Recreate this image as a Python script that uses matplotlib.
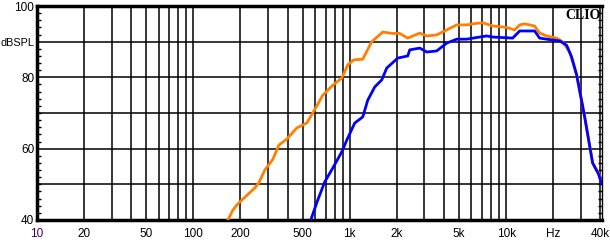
import numpy as np
import matplotlib
matplotlib.use("Agg")
import matplotlib.pyplot as plt
from matplotlib.ticker import FixedLocator, NullFormatter

# frequency response (Hz, dB SPL)
orange_f = [166, 179, 192, 247, 262, 286, 322, 352, 396, 458, 531, 580, 672, 779,
            889, 971, 1061, 1211, 1382, 1625, 1883, 2087, 2348, 2802, 3105, 3597,
            4167, 4828, 5593, 6108, 7077, 8199, 10074, 11334, 12199, 13130, 15210,
            16368, 18150, 21026, 22962, 25461, 28216, 31742, 35703, 39000, 40700]
orange_db = [40.0, 42.8, 44.5, 49.0, 50.4, 54.0, 57.0, 61.0, 62.7, 65.8, 67.2, 70.0,
             75.0, 77.8, 79.8, 83.5, 84.9, 85.1, 90.0, 92.7, 92.3, 92.3, 91.0, 92.4,
             91.6, 91.9, 93.3, 94.7, 94.7, 95.0, 95.3, 94.4, 94.0, 93.3, 94.7, 95.0,
             94.4, 92.4, 91.6, 91.0, 90.0, 87.0, 80.7, 69.0, 56.0, 53.2, 50.7]

blue_f = [563, 624, 692, 779, 889, 957, 1076, 1211, 1303, 1444, 1602, 1723, 2026,
          2348, 2418, 2802, 3105, 3597, 4167, 4828, 5593, 6771, 7506, 8199, 11003,
          12199, 15210, 16368, 18150, 21979, 24356, 26219, 28216, 31742, 35703,
          39000, 40700]
blue_db = [40.0, 45.6, 50.7, 54.6, 59.1, 62.4, 67.2, 68.9, 73.6, 77.3, 79.3, 82.6,
           85.4, 86.0, 87.7, 88.2, 87.1, 87.4, 89.6, 90.7, 90.7, 91.3, 91.6, 91.3,
           91.0, 93.0, 93.0, 91.0, 90.7, 90.2, 89.0, 85.7, 80.7, 69.0, 56.0, 52.8, 50.3]

x_grid = [20, 30, 40, 50, 60, 70, 80, 90, 100, 200, 300, 400, 500, 600, 700, 800,
          900, 1000, 2000, 3000, 4000, 5000, 6000, 7000, 8000, 9000, 10000, 20000,
          30000, 40000]
x_label_pos = [10, 20, 50, 100, 200, 500, 1000, 2000, 5000, 10000, 20000, 40000]
x_labels = ["10", "20", "50", "100", "200", "500", "1k", "2k", "5k", "10k", "Hz", "40k"]
y_grid = [50, 60, 70, 80, 90]
y_label_pos = [40, 60, 80, 90, 100]
y_labels = ["40", "60", "80", "dBSPL", "100"]

plt.rcParams["font.family"] = ["Liberation Sans", "DejaVu Sans"]

fig = plt.figure(figsize=(6.1, 2.46), dpi=100)
ax = fig.add_axes([37 / 610, 26 / 246, 565 / 610, 214 / 246])

for f in x_grid:
    ax.axvline(f, color="black", lw=1.1, zorder=1)
for v in y_grid:
    ax.axhline(v, color="black", lw=1.1, zorder=1)

ax.plot(orange_f, orange_db, color="#ff8000", lw=2.0, zorder=3)
ax.plot(blue_f, blue_db, color="#0000ff", lw=2.0, zorder=4)

ax.set_xscale("log")
ax.set_xlim(10, 41000)
ax.set_ylim(40, 100)

ax.xaxis.set_major_locator(FixedLocator(x_label_pos))
ax.xaxis.set_minor_locator(FixedLocator([]))
ax.xaxis.set_minor_formatter(NullFormatter())
ax.set_xticklabels(x_labels)
ax.tick_params(axis="x", which="major", length=0, pad=6, labelsize=8.5)
ax.get_xticklabels()[0].set_color("#3a0070")

ax.yaxis.set_major_locator(FixedLocator(y_label_pos))
ax.set_yticklabels(y_labels)
ax.yaxis.set_minor_locator(FixedLocator(np.arange(40, 101, 2)))
ax.tick_params(axis="y", which="major", length=0, pad=2, labelsize=8.5)
ax.get_yticklabels()[3].set_fontsize(7.8)
ax.tick_params(axis="y", which="minor", direction="in", length=3, width=1,
               left=True, right=True)

for side in ["top", "bottom", "left"]:
    ax.spines[side].set_linewidth(2.5)
ax.spines["right"].set_linewidth(1.0)

ax.text(0.997, 0.985, "CLIO", transform=ax.transAxes, ha="right", va="top",
        fontsize=10, fontweight="bold", family="Liberation Serif", zorder=5)

fig.savefig("out.png", dpi=100)
